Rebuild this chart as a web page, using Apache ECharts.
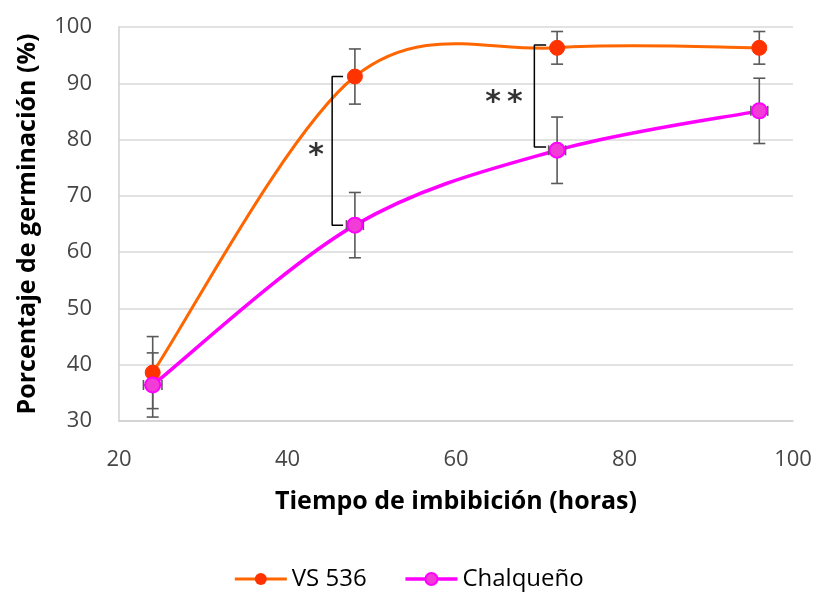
<!DOCTYPE html>
<html><head><meta charset="utf-8">
<script src="https://cdn.jsdelivr.net/npm/echarts@6/dist/echarts.min.js"></script>
<style>html,body{margin:0;padding:0;background:#fff}#c{width:817px;height:592px}</style>
</head><body><div id="c"></div>
<script>
const hours = [24, 48, 72, 96];
const vsValues = [38.6, 91.2, 96.3, 96.3];
const vsErr = [6.4, 4.9, 2.9, 2.9];
const chValues = [36.4, 64.8, 78.1, 85.1];
const chErr = [5.7, 5.8, 5.9, 5.8];
const chErrX = [1.1, 1.0, 1.0, 1.0];
const xTicks = [20, 40, 60, 80, 100];
const yTicks = [30, 40, 50, 60, 70, 80, 90, 100];
const bracket1 = [[46.6, 91.2], [45.3, 91.2], [45.3, 64.8], [46.6, 64.8]];
const bracket2 = [[70.7, 96.8], [69.3, 96.8], [69.3, 78.7], [70.7, 78.7]];
const starLabels = [[43.4, 77.1, '*'], [65.7, 86.5, '*\u2009*']];

const FONT = 'Open Sans';
const chart = echarts.init(document.getElementById('c'));

function errItem(params, api) {
  const x = api.value(0), y = api.value(1), e = api.value(2), ex = api.value(3);
  const top = api.coord([x, y + e]);
  const bot = api.coord([x, y - e]);
  const cap = 6;
  const style = { stroke: '#595959', lineWidth: 1.6, fill: 'none' };
  const children = [
    { type: 'line', shape: { x1: top[0], y1: top[1], x2: bot[0], y2: bot[1] }, style },
    { type: 'line', shape: { x1: top[0] - cap, y1: top[1], x2: top[0] + cap, y2: top[1] }, style },
    { type: 'line', shape: { x1: bot[0] - cap, y1: bot[1], x2: bot[0] + cap, y2: bot[1] }, style }
  ];
  if (ex) {
    const l = api.coord([x - ex, y]);
    const r = api.coord([x + ex, y]);
    children.push({ type: 'line', shape: { x1: l[0], y1: l[1], x2: r[0], y2: r[1] }, style });
    children.push({ type: 'line', shape: { x1: l[0], y1: l[1] - 5, x2: l[0], y2: l[1] + 5 }, style });
    children.push({ type: 'line', shape: { x1: r[0], y1: r[1] - 5, x2: r[0], y2: r[1] + 5 }, style });
  }
  return { type: 'group', children };
}

// Excel-style smoothed curve (Catmull-Rom, 1/6 tangent) drawn through axis coords
function curveItem(xs, ys, color, width) {
  return function (params, api) {
    const i = params.dataIndex;
    if (i >= xs.length - 1) return { type: 'group', children: [] };
    const cl = k => Math.max(0, Math.min(xs.length - 1, k));
    const P = k => api.coord([xs[cl(k)], ys[cl(k)]]);
    const p0 = P(i - 1), p1 = P(i), p2 = P(i + 1), p3 = P(i + 2);
    const c1 = [p1[0] + (p2[0] - p0[0]) / 6, p1[1] + (p2[1] - p0[1]) / 6];
    const c2 = [p2[0] - (p3[0] - p1[0]) / 6, p2[1] - (p3[1] - p1[1]) / 6];
    return {
      type: 'bezierCurve',
      shape: { x1: p1[0], y1: p1[1], x2: p2[0], y2: p2[1], cpx1: c1[0], cpy1: c1[1], cpx2: c2[0], cpy2: c2[1] },
      style: { stroke: color, lineWidth: width, fill: 'none', lineCap: 'round' }
    };
  };
}

const vsErrData = hours.map((h, i) => [h, vsValues[i], vsErr[i], 0]);
const chErrData = hours.map((h, i) => [h, chValues[i], chErr[i], chErrX[i]]);
const VS_LINE = '#FF6600', CH_LINE = '#FF00FF';

chart.setOption({
  animation: false,
  textStyle: { fontFamily: FONT },
  grid: { left: 119, right: 24, top: 27, bottom: 171 },
  legend: {
    top: 562, left: 'center',
    itemWidth: 52, itemHeight: 15, itemGap: 37,
    textStyle: { fontSize: 24, color: '#000', fontFamily: FONT },
    data: [
      { name: 'VS 536', lineStyle: { color: VS_LINE, width: 3, opacity: 1 } },
      { name: 'Chalqueño', lineStyle: { color: CH_LINE, width: 3.5, opacity: 1 } }
    ]
  },
  xAxis: {
    type: 'value', min: 20, max: 100, interval: 20,
    name: 'Tiempo de imbibición (horas)', nameLocation: 'middle', nameGap: 68,
    nameTextStyle: { fontSize: 25, fontWeight: 'bold', color: '#000', fontFamily: FONT },
    axisLine: { show: true, lineStyle: { color: '#d0d0d0', width: 1.5 } },
    axisTick: { show: false },
    splitLine: { show: false },
    axisLabel: { fontSize: 22, color: '#454545', margin: 28,
      formatter: v => xTicks.includes(v) ? String(v) : '' }
  },
  yAxis: {
    type: 'value', min: 30, max: 100, interval: 10,
    name: 'Porcentaje de germinación (%)', nameLocation: 'middle', nameGap: 79, nameRotate: 90,
    nameTextStyle: { fontSize: 25, fontWeight: 'bold', color: '#000', fontFamily: FONT },
    axisLine: { show: true, lineStyle: { color: '#d0d0d0', width: 1.5 } },
    axisTick: { show: false },
    splitLine: { lineStyle: { color: '#d9d9d9', width: 1.5 } },
    axisLabel: { fontSize: 22, color: '#454545', margin: 27,
      formatter: v => yTicks.includes(v) ? String(v) : '' }
  },
  series: [
    { type: 'custom', renderItem: curveItem(hours, vsValues, VS_LINE, 3), data: hours, z: 1, silent: true },
    { type: 'custom', renderItem: curveItem(hours, chValues, CH_LINE, 3.5), data: hours, z: 1, silent: true },
    { type: 'custom', renderItem: errItem, data: vsErrData, z: 2, silent: true },
    { type: 'custom', renderItem: errItem, data: chErrData, z: 2, silent: true },
    {
      name: 'VS 536', type: 'line',
      data: hours.map((h, i) => [h, vsValues[i]]),
      symbol: 'circle', symbolSize: 15,
      lineStyle: { color: VS_LINE, width: 3, opacity: 0 },
      itemStyle: { color: '#FF3300', borderColor: '#FF3300' },
      z: 3
    },
    {
      name: 'Chalqueño', type: 'line',
      data: hours.map((h, i) => [h, chValues[i]]),
      symbol: 'circle', symbolSize: 15,
      lineStyle: { color: CH_LINE, width: 3.5, opacity: 0 },
      itemStyle: { color: '#F23CD6', borderColor: '#FF00FF', borderWidth: 2 },
      z: 3
    },
    { type: 'line', data: bracket1, symbol: 'none', silent: true, lineStyle: { color: '#000', width: 1.5 }, z: 2 },
    { type: 'line', data: bracket2, symbol: 'none', silent: true, lineStyle: { color: '#000', width: 1.5 }, z: 2 },
    {
      type: 'scatter', data: starLabels, symbolSize: 0, silent: true,
      label: { show: true, position: 'inside', formatter: p => p.data[2],
        fontSize: 30, fontWeight: 'bold', color: '#000', fontFamily: 'DejaVu Sans' }
    }
  ]
});
</script></body></html>
